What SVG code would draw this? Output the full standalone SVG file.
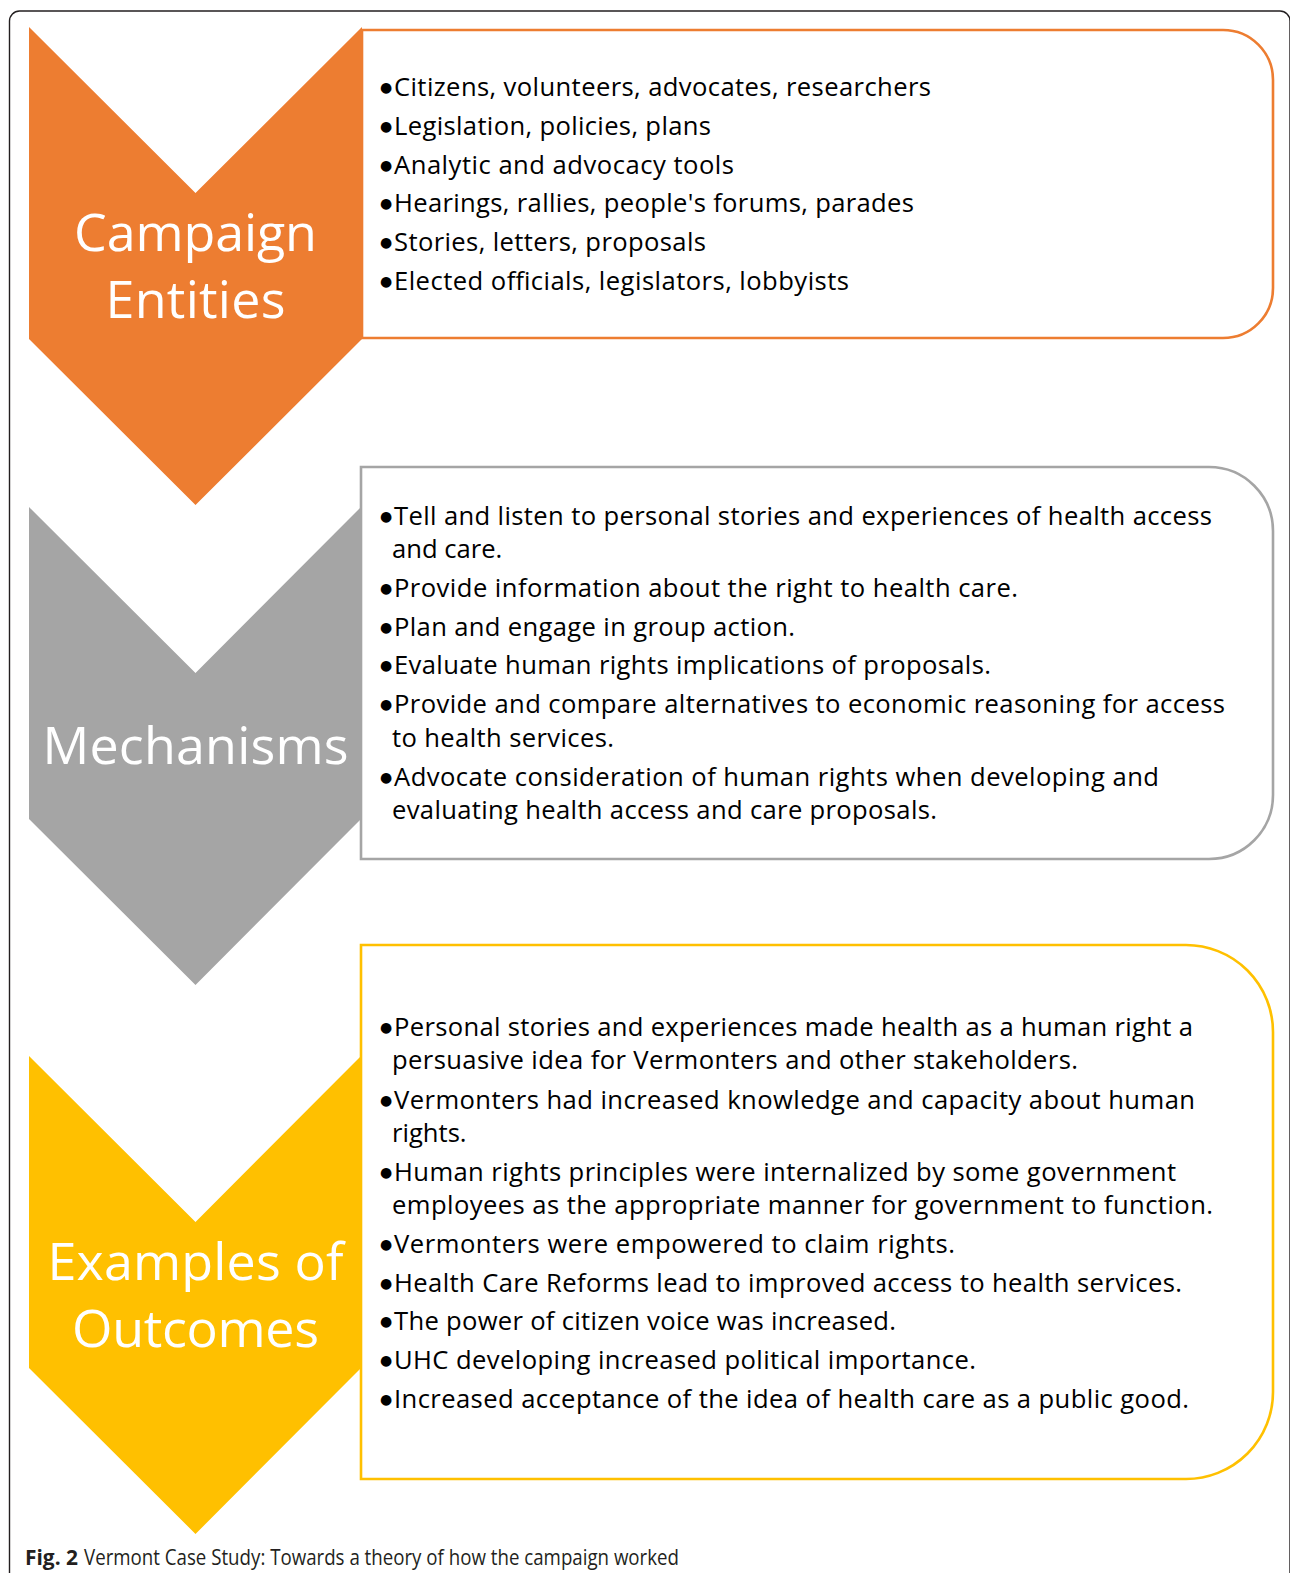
<svg xmlns="http://www.w3.org/2000/svg" width="1290" height="1573" viewBox="0 0 1290 1573">
<style>
.frame{fill:none;stroke:#231f20;stroke-width:1.4}
.box{fill:#ffffff;stroke-width:2.6}
.t{font-family:"Open Sans","Liberation Sans",sans-serif;font-size:25.6px;fill:#000000}
.b{font-family:"DejaVu Sans",sans-serif;font-size:14px;fill:#000000}
.lbl{font-family:"Open Sans","Liberation Sans",sans-serif;font-size:52px;fill:#ffffff;text-anchor:middle}
.cap{font-family:"Open Sans","Liberation Sans",sans-serif;font-size:21px;fill:#231f20}
</style>
<rect class="frame" x="9.5" y="11" width="1280.5" height="1620" rx="10"/>

<g id="campaign-entities">
  <path class="box" stroke="#ed7d31" d="M362 30 H1223 A50 50 0 0 1 1273 80 V288 A50 50 0 0 1 1223 338 H362 Z"/>
  <polygon fill="#ed7d31" points="29,27 195.5,193 362,27 362,339 195.5,505 29,339"/>
  <text class="lbl" x="195.5" y="251" textLength="243">Campaign</text>
  <text class="lbl" x="195.5" y="318" textLength="180">Entities</text>
  <text class="b" x="380" y="91.5">●</text><text class="t" x="394" y="95.5" textLength="537">Citizens, volunteers, advocates, researchers</text>
  <text class="b" x="380" y="130.5">●</text><text class="t" x="394" y="134.5" textLength="317">Legislation, policies, plans</text>
  <text class="b" x="380" y="169.5">●</text><text class="t" x="394" y="173.5" textLength="340">Analytic and advocacy tools</text>
  <text class="b" x="380" y="208">●</text><text class="t" x="394" y="212" textLength="520">Hearings, rallies, people's forums, parades</text>
  <text class="b" x="380" y="246.5">●</text><text class="t" x="394" y="250.5" textLength="312">Stories, letters, proposals</text>
  <text class="b" x="380" y="285.5">●</text><text class="t" x="394" y="289.5" textLength="455">Elected officials, legislators, lobbyists</text>
</g>

<g id="mechanisms">
  <path class="box" stroke="#a5a5a5" d="M361 467 H1209 A64 64 0 0 1 1273 531 V795 A64 64 0 0 1 1209 859 H361 Z"/>
  <polygon fill="#a5a5a5" points="29,507 195.5,673 361,507 361,819 195.5,985 29,819"/>
  <text class="lbl" x="195.5" y="764" textLength="306">Mechanisms</text>
  <text class="b" x="380" y="520.5">●</text><text class="t" x="394" y="524.5" textLength="818">Tell and listen to personal stories and experiences of health access</text>
  <text class="t" x="392" y="557.5">and care.</text>
  <text class="b" x="380" y="593">●</text><text class="t" x="394" y="597" textLength="624">Provide information about the right to health care.</text>
  <text class="b" x="380" y="632">●</text><text class="t" x="394" y="636" textLength="401">Plan and engage in group action.</text>
  <text class="b" x="380" y="670">●</text><text class="t" x="394" y="674" textLength="597">Evaluate human rights implications of proposals.</text>
  <text class="b" x="380" y="709">●</text><text class="t" x="394" y="713" textLength="831">Provide and compare alternatives to economic reasoning for access</text>
  <text class="t" x="392" y="746.5" textLength="222">to health services.</text>
  <text class="b" x="380" y="781.5">●</text><text class="t" x="394" y="785.5" textLength="765">Advocate consideration of human rights when developing and</text>
  <text class="t" x="392" y="818.5" textLength="545">evaluating health access and care proposals.</text>
</g>

<g id="examples-of-outcomes">
  <path class="box" stroke="#ffc000" d="M361 945 H1186 A87 87 0 0 1 1273 1032 V1392 A87 87 0 0 1 1186 1479 H361 Z"/>
  <polygon fill="#ffc000" points="29,1056 195.5,1222 361,1056 361,1368 195.5,1534 29,1368"/>
  <text class="lbl" x="195.5" y="1280" textLength="296">Examples of</text>
  <text class="lbl" x="195.5" y="1347" textLength="247">Outcomes</text>
  <text class="b" x="380" y="1032">●</text><text class="t" x="394" y="1036" textLength="799">Personal stories and experiences made health as a human right a</text>
  <text class="t" x="392" y="1069" textLength="686">persuasive idea for Vermonters and other stakeholders.</text>
  <text class="b" x="380" y="1104.5">●</text><text class="t" x="394" y="1108.5" textLength="801">Vermonters had increased knowledge and capacity about human</text>
  <text class="t" x="392" y="1141.5">rights.</text>
  <text class="b" x="380" y="1176.5">●</text><text class="t" x="394" y="1180.5" textLength="782">Human rights principles were internalized by some government</text>
  <text class="t" x="392" y="1213.5" textLength="821">employees as the appropriate manner for government to function.</text>
  <text class="b" x="380" y="1249">●</text><text class="t" x="394" y="1253" textLength="561">Vermonters were empowered to claim rights.</text>
  <text class="b" x="380" y="1288">●</text><text class="t" x="394" y="1292" textLength="788">Health Care Reforms lead to improved access to health services.</text>
  <text class="b" x="380" y="1326">●</text><text class="t" x="394" y="1330" textLength="502">The power of citizen voice was increased.</text>
  <text class="b" x="380" y="1365">●</text><text class="t" x="394" y="1369" textLength="582">UHC developing increased political importance.</text>
  <text class="b" x="380" y="1404">●</text><text class="t" x="394" y="1408" textLength="795">Increased acceptance of the idea of health care as a public good.</text>
</g>

<g id="connectors"></g>

<g id="caption">
  <text class="cap" x="25" y="1565" font-weight="bold" textLength="53" lengthAdjust="spacingAndGlyphs">Fig. 2</text>
  <text class="cap" x="84" y="1565" textLength="595" lengthAdjust="spacingAndGlyphs">Vermont Case Study: Towards a theory of how the campaign worked</text>
</g>
</svg>
